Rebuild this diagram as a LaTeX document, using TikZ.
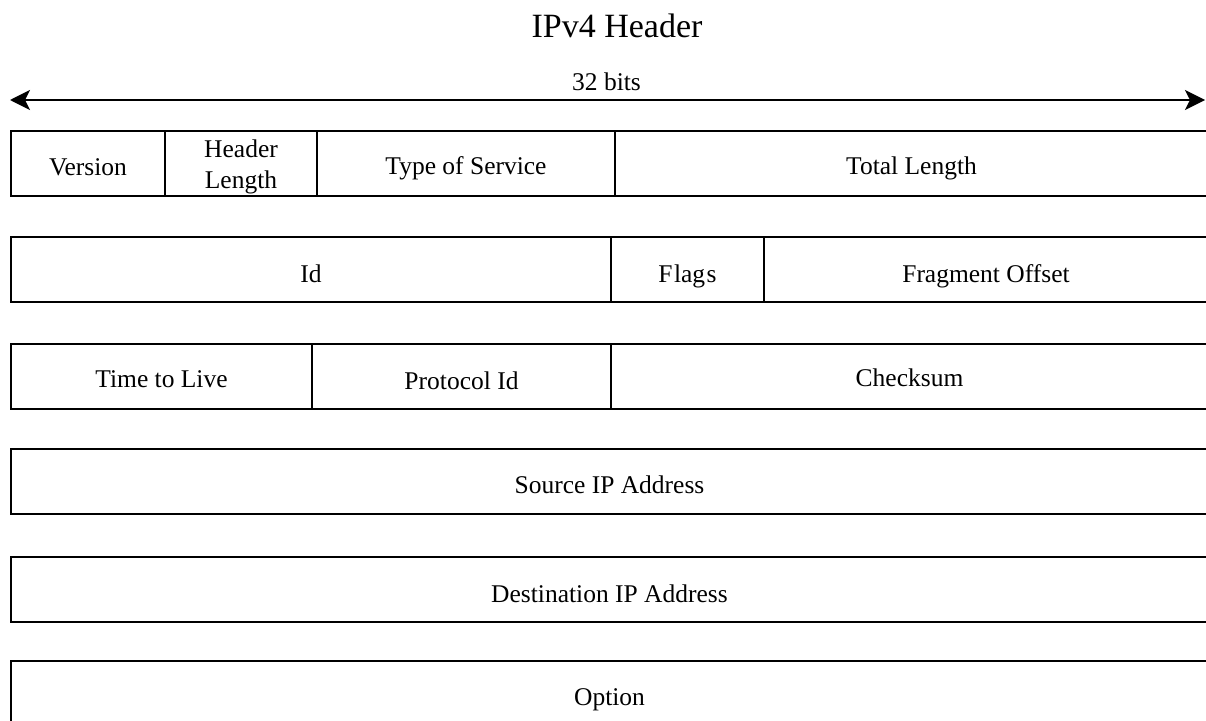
\documentclass[tikz,border=0pt]{standalone}
\usepackage{fontspec}
\setmainfont{Liberation Serif}
\usetikzlibrary{arrows.meta}
\begin{document}
\begin{tikzpicture}[x=1pt,y=-1pt,
  cell/.style={draw=black, line width=2.6pt, rectangle, inner sep=0pt, minimum height=65pt},
  lbl/.style={anchor=base, inner sep=0pt, font=\fontsize{25.5}{29}\selectfont},
  widthrule/.style={line width=2.3pt, {Stealth[length=20pt,width=20pt,inset=5pt]}-{Stealth[length=20pt,width=20pt,inset=5pt]}}]
  \useasboundingbox (0,0) rectangle (1206,720);
  \clip (0,0) rectangle (1206,720);

  % title and word width
  \node[anchor=base, inner sep=0pt, font=\fontsize{34}{38}\selectfont] (title) at (617,37) {IPv4 Header};
  \node[lbl] (bits) at (606.5,90) {32 bits};
  \coordinate (wl) at (10,100);
  \coordinate (wr) at (1205,100);
  \draw[widthrule] (wl) -- (wr);

  % row 1
  \node[cell, minimum width=154pt] (ver) at (88,163.5) {};
  \node[cell, minimum width=152pt] (hl)  at (241,163.5) {};
  \node[cell, minimum width=298pt] (tos) at (466,163.5) {};
  \node[cell, minimum width=593pt] (tl)  at (911.5,163.5) {};
  \node[lbl] (tver) at ([yshift=-11.5pt]ver.center) {Version};
  \node[lbl] (thl1) at ([yshift=6.5pt]hl.center) {Header};
  \node[lbl] (thl2) at ([yshift=-24.5pt]hl.center) {Length};
  \node[lbl] (ttos) at ([yshift=-10.5pt]tos.center) {Type of Service};
  \node[lbl] (ttl)  at ([yshift=-10.5pt]tl.center) {Total Length};

  % row 2
  \node[cell, minimum width=600pt] (id)  at (311,269.5) {};
  \node[cell, minimum width=153pt] (fl)  at (687.5,269.5) {};
  \node[cell, minimum width=444pt] (fo)  at (986,269.5) {};
  \node[lbl] (tid) at ([yshift=-12.5pt]id.center) {Id};
  \node[lbl] (tfl) at ([yshift=-13pt]fl.center) {F\kern1.5pt lag\kern1.5pt s};
  \node[lbl] (tfo) at ([yshift=-12.5pt]fo.center) {Fragment Offset};

  % row 3
  \node[cell, minimum width=301pt] (ttlv) at (161.5,376.5) {};
  \node[cell, minimum width=299pt] (pid)  at (461.5,376.5) {};
  \node[cell, minimum width=597pt] (cs)   at (909.5,376.5) {};
  \node[lbl] (tttl) at ([yshift=-10.5pt]ttlv.center) {Time to Live};
  \node[lbl] (tpid) at ([yshift=-12.5pt]pid.center) {Protocol Id};
  \node[lbl] (tcs)  at ([yshift=-9.5pt]cs.center) {Checksum};

  % rows 4 to 6
  \node[cell, minimum width=1197pt] (src) at (609.5,481.5) {};
  \node[cell, minimum width=1197pt] (dst) at (609.5,589.5) {};
  \node[cell, minimum width=1197pt] (opt) at (609.5,693.5) {};
  \node[lbl] (tsrc) at ([yshift=-11.5pt]src.center) {Source IP Address};
  \node[lbl] (tdst) at ([yshift=-12.5pt]dst.center) {Destination IP Address};
  \node[lbl] (topt) at ([yshift=-11.5pt]opt.center) {Option};
\end{tikzpicture}
\end{document}
